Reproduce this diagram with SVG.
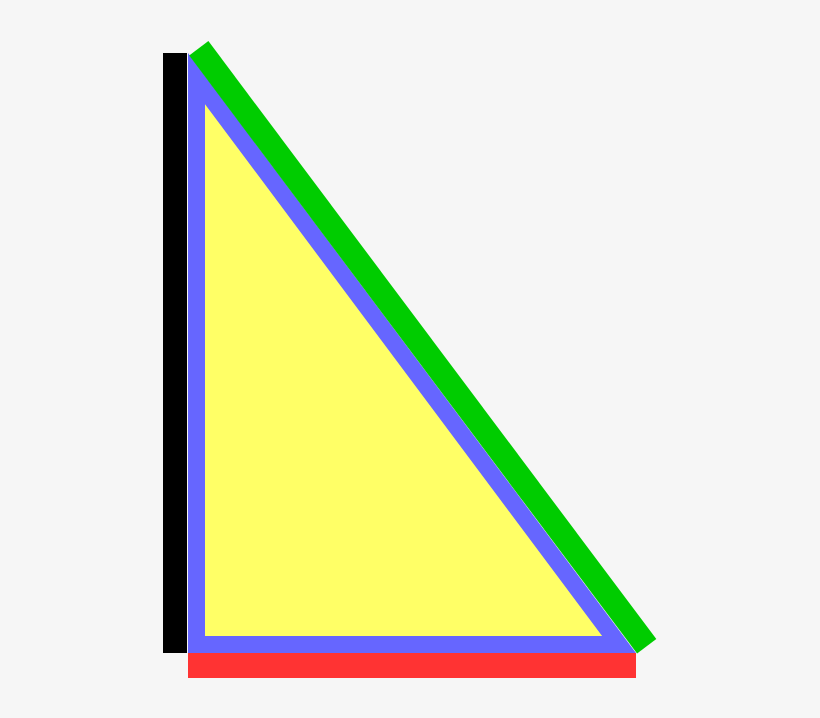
<svg xmlns="http://www.w3.org/2000/svg" width="820" height="718" viewBox="0 0 820 718">
<style>
.tri{fill:#ffff66;stroke:#6666ff;stroke-width:17;stroke-linejoin:miter;stroke-miterlimit:10}
</style>
<rect x="0" y="0" width="820" height="718" fill="#f6f6f6"/>
<g id="triangle">
<polygon class="tri" points="196.5,78.6 196.5,644.5 619,644.5"/>
</g>
<g id="sides">
<rect x="163" y="53" width="24" height="600" fill="#000000"/>
<rect x="188" y="653" width="448" height="25" fill="#ff3333"/>
<line x1="198.8" y1="48.3" x2="646.7" y2="646.3" stroke="#00cc00" stroke-width="24"/>
</g>
</svg>
